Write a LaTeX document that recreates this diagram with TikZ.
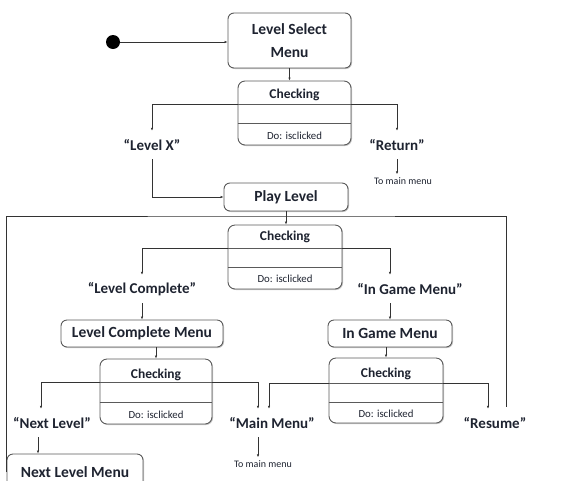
\documentclass[tikz,border=0pt]{standalone}
\usepackage{fontspec}
\setmainfont{Carlito}
\usepackage{xcolor}
\usepackage{tikz}
\usetikzlibrary{positioning,arrows.meta,shadows}
\definecolor{ink}{HTML}{1E2330}
\definecolor{edge}{HTML}{5A5A5A}

\begin{document}
\begin{tikzpicture}[x=1pt,y=-1pt,
    state/.style={draw=edge, line width=0.9pt, rounded corners=6pt, fill=white,
      drop shadow={shadow xshift=1pt, shadow yshift=-1pt, opacity=0.45},
      text=ink, font=\bfseries\fontsize{15.5}{23}\selectfont, align=center, inner sep=2pt},
    check/.style={draw=edge, line width=0.9pt, rounded corners=7pt, fill=white,
      drop shadow={shadow xshift=1pt, shadow yshift=-1pt, opacity=0.45}, inner sep=0pt},
    chead/.style={text=ink, font=\bfseries\fontsize{13.5}{15}\selectfont, inner sep=0pt},
    cdo/.style={text=ink, font=\fontsize{10.8}{12}\selectfont, inner sep=0pt},
    lbl/.style={text=ink, font=\bfseries\fontsize{15}{17}\selectfont, minimum height=28pt, inner sep=1pt},
    note/.style={text=ink, font=\fontsize{10}{11}\selectfont, inner sep=3pt},
    divl/.style={draw=edge, line width=0.8pt},
    line/.style={draw=black!80, line width=0.8pt},
    arr/.style={line, -{Latex[length=3pt,width=2.5pt]}}]

    \useasboundingbox (0,0) rectangle (572,480);

    % Start
    \node[circle, fill=black, minimum size=14pt, inner sep=0pt] (init) at (113,42) {};
    \node[state, minimum width=123pt, minimum height=55pt] (lsm) at (289.5,40.5) {Level Select\\Menu};

    % Checking 1
    \node[check, minimum width=113pt, minimum height=64pt] (c1) at (294.5,113) {};
    \draw[divl] ([yshift=-24pt]c1.north west) -- ([yshift=-24pt]c1.north east);
    \draw[divl] ([yshift=-43pt]c1.north west) -- ([yshift=-43pt]c1.north east);
    \node[chead] (c1h) at ([yshift=-14pt]c1.north) {Checking};
    \node[cdo] (c1d) at ([yshift=10pt]c1.south) {Do: isclicked};

    \node[lbl] (lvx) at (152,145) {“Level X”};
    \node[lbl] (ret) at (397,145) {“Return”};
    \node[note] (tmm1) at (403,181) {To main menu};

    \node[state, minimum width=124pt, minimum height=28pt] (play) at (286,197) {Play Level};

    % Checking 2
    \node[check, minimum width=114pt, minimum height=64pt] (c2) at (285,257) {};
    \draw[divl] ([yshift=-24pt]c2.north west) -- ([yshift=-24pt]c2.north east);
    \draw[divl] ([yshift=-43pt]c2.north west) -- ([yshift=-43pt]c2.north east);
    \node[chead] (c2h) at ([yshift=-12pt]c2.north) {Checking};
    \node[cdo] (c2d) at ([yshift=11pt]c2.south) {Do: isclicked};

    \node[lbl] (lc) at (142,289) {“Level Complete”};
    \node[lbl] (igm) at (410,289) {“In Game Menu”};

    \node[state, minimum width=162pt, minimum height=27pt] (lcm) at (142,333.5) {Level Complete Menu};
    \node[state, minimum width=124pt, minimum height=27pt] (igmb) at (390,333.5) {In Game Menu};

    % Checking 3
    \node[check, minimum width=112pt, minimum height=65pt] (c3) at (156,391.5) {};
    \draw[divl] ([yshift=-24pt]c3.north west) -- ([yshift=-24pt]c3.north east);
    \draw[divl] ([yshift=-44pt]c3.north west) -- ([yshift=-44pt]c3.north east);
    \node[chead] (c3h) at ([yshift=-16pt]c3.north) {Checking};
    \node[cdo] (c3d) at ([yshift=10pt]c3.south) {Do: isclicked};

    % Checking 4
    \node[check, minimum width=114pt, minimum height=65pt] (c4) at (386,390.5) {};
    \draw[divl] ([yshift=-26pt]c4.north west) -- ([yshift=-26pt]c4.north east);
    \draw[divl] ([yshift=-45pt]c4.north west) -- ([yshift=-45pt]c4.north east);
    \node[chead] (c4h) at ([yshift=-16pt]c4.north) {Checking};
    \node[cdo] (c4d) at ([yshift=10pt]c4.south) {Do: isclicked};

    \node[lbl] (nl) at (52,423) {“Next Level”};
    \node[lbl] (mm) at (272,423) {“Main Menu”};
    \node[lbl] (res) at (495,423) {“Resume”};
    \node[note] (tmm2) at (263,464) {To main menu};
    \node[state, minimum width=136pt, minimum height=36pt] (nlm) at (75,472) {Next Level Menu};

    % Connections
    \draw[arr] (init) -- (init -| lsm.west);
    \draw[arr] (lsm.south) -- (lsm.south |- c1.north);
    \draw[arr] ([yshift=-24pt]c1.north west) -| (lvx.north);
    \draw[arr] ([yshift=-24pt]c1.north east) -| (ret.north);
    \draw[arr] (ret.south) -- (ret.south |- tmm1.north);
    \draw[arr] (lvx.south) |- (play.west);
    \draw[arr] (play.south) -- (play.south |- c2.north);

    \draw[arr] ([yshift=-24pt]c2.north west) -| (lc.north);
    \draw[arr] ([yshift=-24pt]c2.north east) -| (igmb.north |- igm.north);
    \draw[arr] (lc.south) -- (lcm.north);
    \draw[arr] (igmb.north |- igm.south) -- (igmb.north);
    \draw[arr] (c3.north |- lcm.south) -- (c3.north);
    \draw[arr] (c4.north |- igmb.south) -- (c4.north);

    \draw[arr] ([yshift=-24pt]c3.north west) -| ([xshift=-11pt]nl.north);
    \draw[arr] ([yshift=-24pt]c3.north east) -| ([xshift=-14pt]mm.north);
    \draw[arr] ([yshift=-26pt]c4.north west) -| ([xshift=-3pt]mm.north);
    \draw[arr] ([yshift=-26pt]c4.north east) -| ([xshift=-7pt]res.north);
    \draw[arr] ([xshift=-14pt]nl.south) -- ([xshift=-14pt]nl.south |- nlm.north);
    \draw[arr] ([xshift=-14pt]mm.south) -- ([xshift=-14pt]mm.south |- tmm2.north);

    % Loop back to checking
    \coordinate (ftop) at (286,216);
    \coordinate (fend) at (506,407);
    \draw[line] (nlm.west) |- (ftop) -| (fend);
\end{tikzpicture}
\end{document}
